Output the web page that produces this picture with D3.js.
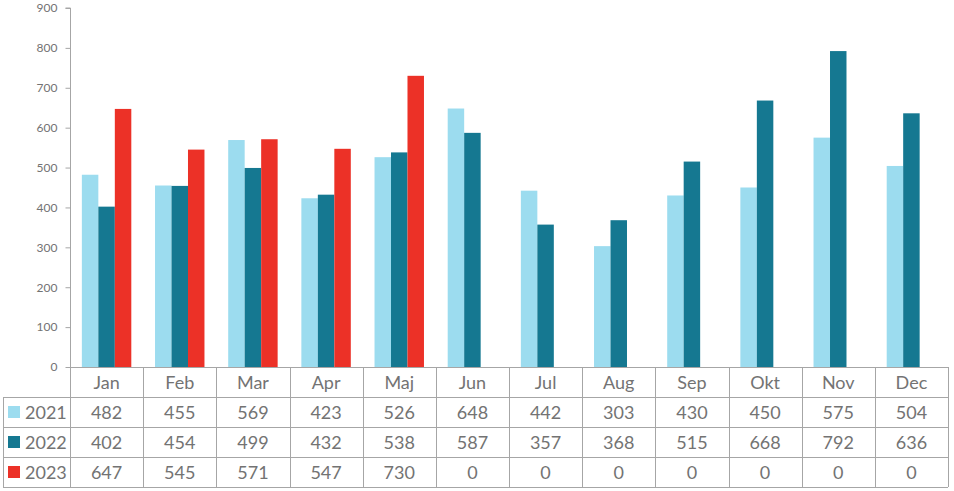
<!DOCTYPE html>
<html><head><meta charset="utf-8">
<script src="https://cdn.jsdelivr.net/npm/d3@7"></script>
<style>html,body{margin:0;padding:0;background:#fff;}svg{display:block;}</style>
</head><body>
<script>
const months = ["Jan","Feb","Mar","Apr","Maj","Jun","Jul","Aug","Sep","Okt","Nov","Dec"];
const seriesNames = ["2021","2022","2023"];
const v2021 = [482,455,569,423,526,648,442,303,430,450,575,504];
const v2022 = [402,454,499,432,538,587,357,368,515,668,792,636];
const v2023 = [647,545,571,547,730,0,0,0,0,0,0,0];
const yTicks = [0,100,200,300,400,500,600,700,800,900];
const colors = ["#9cdcef","#157891","#ec3127"];
const values = [v2021, v2022, v2023];

const W = 954, H = 491;
const mLeft = 70, mRight = 948, mTop = 8, mBottom = 367;
const rowH = 30;
const font = "Lato, 'Open Sans', sans-serif";
const grid = "#a6a6a6";
const txt = "#737373";

const svg = d3.select("body").append("svg").attr("width", W).attr("height", H);

const x = d3.scaleBand().domain(months).range([mLeft, mRight]).padding(0);
const sub = d3.scaleBand().domain(seriesNames).range([0, x.bandwidth()]).paddingInner(0).paddingOuter(0.72);
const y = d3.scaleLinear().domain([0, 900]).range([mBottom, mTop]);

// Y axis
const yAxis = d3.axisLeft(y).tickValues(yTicks).tickSize(5).tickPadding(8);
const gy = svg.append("g").attr("transform", `translate(${mLeft + 0.5},0)`).call(yAxis);
gy.select(".domain").attr("stroke", grid).attr("d", `M-5,${mTop}H0V${mBottom}`);
gy.selectAll(".tick line").attr("stroke", grid);
gy.selectAll(".tick text").attr("fill", txt).style("font-family", font).style("font-size", "12px");

// Bars
seriesNames.forEach((s, si) => {
  svg.append("g").selectAll("rect").data(months).join("rect")
    .attr("x", m => x(m) + sub(s))
    .attr("width", sub.bandwidth())
    .attr("y", (m, i) => y(values[si][i]))
    .attr("height", (m, i) => y(0) - y(values[si][i]))
    .attr("fill", colors[si]);
});

// Data table
const tg = svg.append("g");
const tableLeft = 3;
const rows = 4;
tg.append("line").attr("x1", mLeft).attr("x2", mRight).attr("y1", mBottom + 0.5).attr("y2", mBottom + 0.5).attr("stroke", grid);
for (let r = 1; r <= rows; r++) {
  const yy = mBottom + r * rowH + 0.5;
  tg.append("line").attr("x1", tableLeft).attr("x2", mRight).attr("y1", yy).attr("y2", yy).attr("stroke", grid);
}
const bounds = months.map(m => x(m)).concat([mRight]);
bounds.forEach(bx => {
  tg.append("line").attr("x1", Math.round(bx) + 0.5).attr("x2", Math.round(bx) + 0.5)
    .attr("y1", mBottom).attr("y2", mBottom + rows * rowH).attr("stroke", grid);
});
tg.append("line").attr("x1", tableLeft + 0.5).attr("x2", tableLeft + 0.5)
  .attr("y1", mBottom + rowH).attr("y2", mBottom + rows * rowH).attr("stroke", grid);

tg.selectAll("text.m").data(months).join("text").attr("class","m")
  .attr("x", m => x(m) + x.bandwidth() / 2)
  .attr("y", mBottom + rowH / 2 + 6.5)
  .attr("text-anchor", "middle").attr("fill", txt)
  .style("font-family", font).style("font-size", "18px").text(m => m);

seriesNames.forEach((s, si) => {
  const cy = mBottom + (si + 1) * rowH + rowH / 2;
  tg.append("rect").attr("x", 8).attr("y", cy - 6).attr("width", 12).attr("height", 12).attr("fill", colors[si]);
  tg.append("text").attr("x", 25).attr("y", cy + 6.5).attr("fill", txt)
    .style("font-family", font).style("font-size", "18px").text(s);
  tg.selectAll(null).data(months).join("text")
    .attr("x", m => x(m) + x.bandwidth() / 2)
    .attr("y", cy + 6.5)
    .attr("text-anchor", "middle").attr("fill", txt)
    .style("font-family", font).style("font-size", "18px")
    .text((m, i) => values[si][i]);
});
</script>
</body></html>
